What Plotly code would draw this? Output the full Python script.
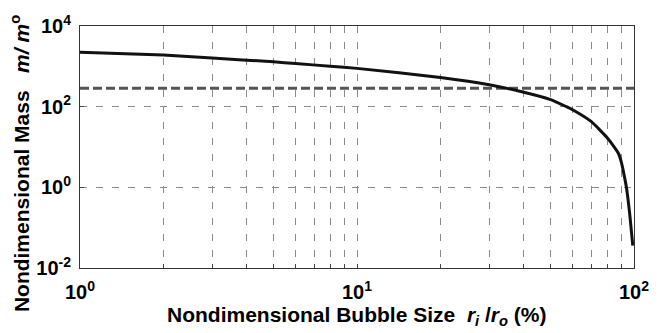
import plotly.graph_objects as go

# Bubble size (percent of outer radius) and nondimensional mass
bubble_size = [1, 2, 3, 5, 6, 8, 10, 20, 30, 40, 50, 57, 60, 70, 80, 84, 88, 90, 92, 94, 96.5, 99]
mass_ratio = [2250, 1920, 1610, 1290, 1170, 1010, 890, 530, 350, 228, 150, 100, 84, 43, 17, 11, 6.8, 4.2, 2.1, 0.95, 0.22, 0.036]

# Reference level drawn as a heavy dashed line
reference_level = 285

x_range = [1, 100]
x_grid = [1, 2, 3, 4, 5, 6, 7, 8, 9, 10, 20, 30, 40, 50, 60, 70, 80, 90, 100]
x_labels = {1: "10<sup>0</sup>", 10: "10<sup>1</sup>", 100: "10<sup>2</sup>"}
y_ticks = [1e-2, 1, 1e2, 1e4]
y_labels = ["10<sup>-2</sup>", "10<sup>0</sup>", "10<sup>2</sup>", "10<sup>4</sup>"]

FONT = "Liberation Sans, Arial, sans-serif"

fig = go.Figure()

fig.add_trace(go.Scatter(
    x=x_range, y=[reference_level, reference_level], mode="lines",
    line=dict(color="#555555", width=3, dash="9px,4px"),
    hoverinfo="skip", showlegend=False,
))

fig.add_trace(go.Scatter(
    x=bubble_size, y=mass_ratio, mode="lines",
    line=dict(color="#111111", width=3, shape="spline", smoothing=0.5),
    showlegend=False,
))

fig.update_layout(
    width=661, height=333,
    margin=dict(l=80, r=25, t=23, b=65),
    paper_bgcolor="white", plot_bgcolor="white",
    font=dict(family=FONT, color="black"),
    xaxis=dict(
        type="log", range=[0, 2],
        tickvals=x_grid,
        ticktext=[x_labels.get(v, "") for v in x_grid],
        tickfont=dict(size=20, weight="bold"),
        ticks="inside", ticklen=4, tickcolor="#444",
        showgrid=True, gridcolor="#8a8a8a", gridwidth=1, griddash="7px,9px",
        showline=True, linecolor="#333", linewidth=1, mirror=True,
        zeroline=False, ticklabelstandoff=6,
    ),
    yaxis=dict(
        type="log", range=[-2, 4],
        tickvals=y_ticks, ticktext=y_labels,
        tickfont=dict(size=20, weight="bold"),
        ticks="inside", ticklen=4, tickcolor="#444",
        showgrid=True, gridcolor="#8a8a8a", gridwidth=1, griddash="7px,9px",
        showline=True, linecolor="#333", linewidth=1, mirror=True,
        zeroline=False, ticklabelstandoff=4,
    ),
    annotations=[
        dict(
            text="<b>Nondimensional Bubble Size  <i>r</i><sub><i>i</i></sub> /<i>r</i><sub><i>o</i></sub> (%)</b>",
            xref="paper", yref="paper", x=0.5, y=-0.135,
            xanchor="center", yanchor="top", showarrow=False,
            font=dict(size=21, family=FONT),
        ),
        dict(
            text="<b>Nondimensional Mass   <i>m/ m</i><sup>o</sup></b>",
            xref="paper", yref="paper", x=-0.108, y=0.43,
            xanchor="center", yanchor="middle", showarrow=False,
            textangle=-90,
            font=dict(size=21, family=FONT),
        ),
    ],
)

fig.write_html("out.html")
